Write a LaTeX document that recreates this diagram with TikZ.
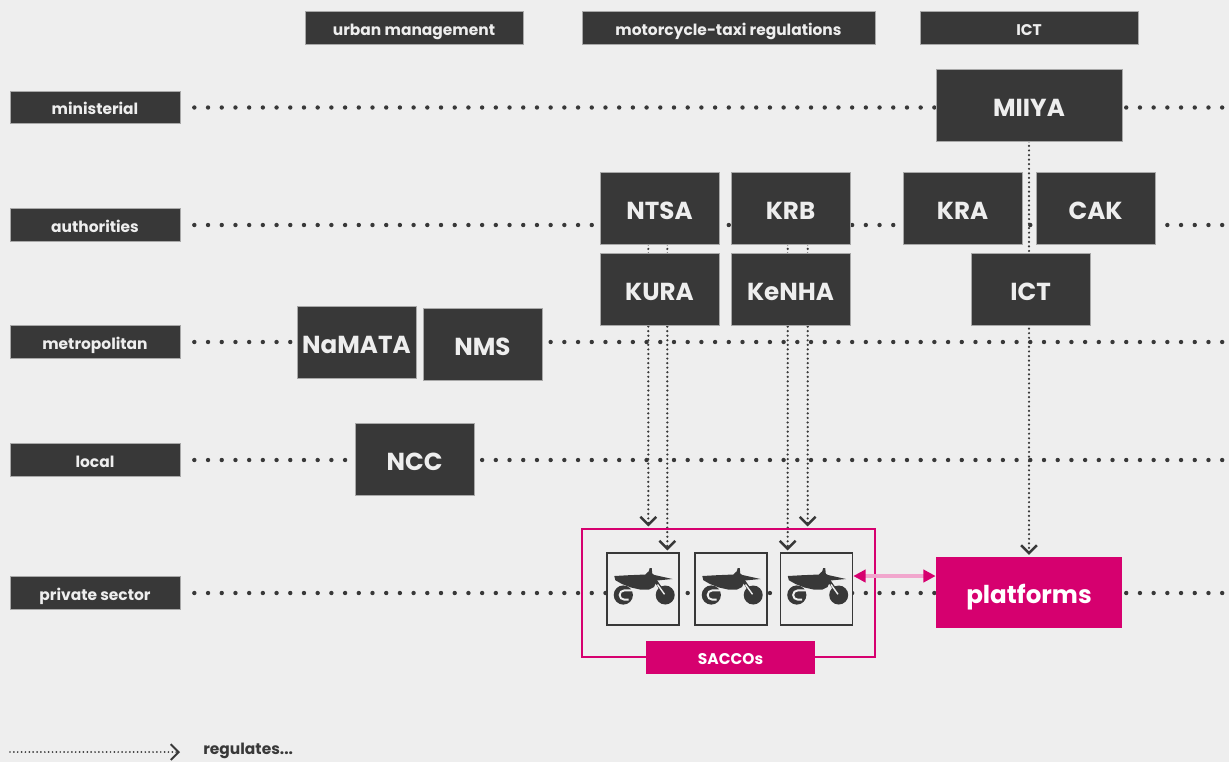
\documentclass[tikz,border=0pt]{standalone}
\usepackage{fontspec}
\setmainfont{Poppins}
\usetikzlibrary{arrows.meta}
\definecolor{bgc}{HTML}{EEEEEE}
\definecolor{dark}{HTML}{383838}
\definecolor{mag}{HTML}{D6006F}
\definecolor{edge}{HTML}{A8A8A8}
\pgfdeclarelayer{bg}
\pgfsetlayers{bg,main}
\tikzset{
  big/.style={fill=dark,draw=edge,line width=0.4pt,text=bgc,font=\bfseries\fontsize{14}{16}\selectfont,
    text height=13pt,text depth=0pt,minimum width=2.38cm,minimum height=1.44cm,inner sep=0pt},
  tag/.style={fill=dark,draw=edge,line width=0.4pt,text=bgc,font=\bfseries\fontsize{8.8}{10}\selectfont,
    text height=8.4pt,text depth=0pt,minimum height=0.65cm,inner sep=0pt},
  bikebox/.style={draw=dark,line width=0.9pt,fill=bgc,minimum size=1.44cm,inner sep=0pt},
  row/.style={dark,line width=2.5pt,line cap=round,dash pattern=on 0pt off 7.8pt},
  reg/.style={dark,line width=1.4pt,line cap=round,dash pattern=on 0pt off 2.6pt,
    -{Straight Barb[length=4.5pt,width=9pt]},shorten >=1pt},
  bike/.pic={
    \fill[dark] (-28.7,-13) -- (-14.3,-13.8) -- (2.3,-14.5) -- (5.7,-17.7) -- (6.7,-21) -- (8.7,-21)
      -- (9.3,-15.3) -- (11.5,-14) -- (29.5,-10) -- (19,-9) -- (14,-8.5) -- (11,-2) -- (6,0.5)
      -- (-3,0.5) -- (-12,-1.5) -- (-21,-5) -- (-27.7,-8.8) -- cycle;
    \draw[dark,line width=1.8pt] (10,-12) -- (22.2,6);
    \fill[dark] (-19.7,6) circle (9.6) (22.2,6) circle (9.5);
    \draw[bgc,line width=1.1pt] (-9,1.4) -- (-18.8,1.4) arc[start angle=270,end angle=90,radius=4.6] -- (-14.5,10.6);
    \draw[bgc,line width=0.8pt] (14.5,-4.5) -- (21.5,5.3);
  }
}
\begin{document}
\begin{tikzpicture}[x=0.02cm,y=-0.02cm]
\useasboundingbox (0,0) rectangle (1229,762);
\begin{pgfonlayer}{bg}
  \fill[bgc] (0,0) rectangle (1229,762);
\end{pgfonlayer}
\coordinate (rend) at (1229,0);
% columns
\node[tag,minimum width=4.36cm] (hurban) at (414,28) {urban management};
\node[tag,minimum width=5.86cm] (hmoto) at (728.5,28) {motorcycle-taxi regulations};
\node[tag,minimum width=4.36cm] (hict) at (1029,28) {ICT};
% levels
\node[tag,minimum width=3.4cm] (lmin) at (95,107.5) {ministerial};
\node[tag,minimum width=3.4cm] (lauth) at (95,225) {authorities};
\node[tag,minimum width=3.4cm] (lmetro) at (95,342) {metropolitan};
\node[tag,minimum width=3.4cm] (llocal) at (95,460) {local};
\node[tag,minimum width=3.4cm] (lpriv) at (95,593) {private sector};
% bodies
\node[big,minimum width=3.72cm] (miiya) at (1029,105) {MIIYA};
\node[big] (ntsa) at (659.5,208) {NTSA};
\node[big] (krb) at (790.5,208) {KRB};
\node[big] (kra) at (962.5,208) {KRA};
\node[big] (cak) at (1095.5,208) {CAK};
\node[big] (kura) at (659.5,289) {KURA};
\node[big] (kenha) at (790.5,289) {KeNHA};
\node[big] (ict) at (1030.5,289) {ICT};
\node[big] (namata) at (356.5,342) {NaMATA};
\node[big] (nms) at (482.5,344) {NMS};
\node[big] (ncc) at (414.5,459) {NCC};
% private sector
\node[draw=mag,line width=0.9pt,minimum width=5.86cm,minimum height=2.56cm] (sacco) at (728.5,593) {};
\node[bikebox] (b1) at (643,589) {};
\node[bikebox] (b2) at (731,589) {};
\node[bikebox] (b3) at (816.5,589) {};
\pic at (b1) {bike};
\pic at (b2) {bike};
\pic at (b3) {bike};
\node[tag,fill=mag,draw=none,text=white,minimum width=3.38cm] (saccolab) at (730.5,657.5) {SACCOs};
\node[big,fill=mag,draw=none,text=white,minimum width=3.72cm,minimum height=1.42cm] (platforms) at (1029,592.5) {platforms};
\coordinate (dl) at ([yshift=0.26cm]b3.east);
\draw[mag!35,line width=2pt,{Triangle[length=7pt,width=7pt,color=mag]}-{Triangle[length=7pt,width=7pt,color=mag]}] (dl) -- (dl -| platforms.west);
% legend
\coordinate (lg0) at (10,752);
\coordinate (lg1) at (180,752);
\draw[reg,line width=1.1pt,dash pattern=on 0pt off 2.2pt,shorten >=0pt] (lg0) -- (lg1);
\node[anchor=west,text=dark,font=\bfseries\fontsize{8.8}{10}\selectfont,inner sep=0pt] (lgtext) at (203,751) {regulates...};
\begin{pgfonlayer}{bg}
  \draw[row] ([xshift=0.28cm]lmin.east) -- (lmin.east -| rend);
  \draw[row] ([xshift=0.28cm]lauth.east) -- (lauth.east -| rend);
  \draw[row] ([xshift=0.28cm]lmetro.east) -- (lmetro.east -| rend);
  \draw[row] ([xshift=0.28cm]llocal.east) -- (llocal.east -| rend);
  \draw[row] ([xshift=0.28cm]lpriv.east) -- (lpriv.east -| rend);
  \coordinate (n1) at ([xshift=-0.224cm]ntsa.south);
  \coordinate (n2) at ([xshift=0.156cm]ntsa.south);
  \coordinate (k1) at ([xshift=-0.056cm]krb.south);
  \coordinate (k2) at ([xshift=0.344cm]krb.south);
  \draw[reg] (n1) -- (n1 |- sacco.north);
  \draw[reg] (n2) -- (n2 |- b1.north);
  \draw[reg] (k1) -- (k1 |- b3.north);
  \draw[reg] (k2) -- (k2 |- sacco.north);
  \draw[reg] (miiya.south) -- (platforms.north);
\end{pgfonlayer}
\end{tikzpicture}
\end{document}
